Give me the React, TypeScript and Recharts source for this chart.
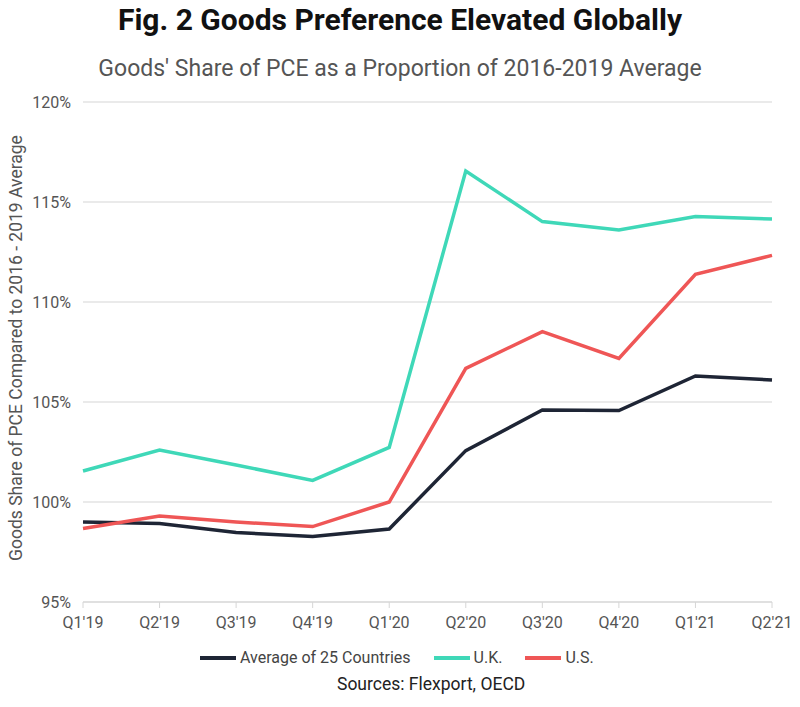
import React from 'react';
import { LineChart, Line, XAxis, YAxis, CartesianGrid } from 'recharts';

const quarters = ["Q1'19", "Q2'19", "Q3'19", "Q4'19", "Q1'20", "Q2'20", "Q3'20", "Q4'20", "Q1'21", "Q2'21"];
const average25 = [99.0, 98.92, 98.48, 98.27, 98.65, 102.57, 104.6, 104.57, 106.3, 106.1];
const uk = [101.55, 102.6, 101.85, 101.08, 102.73, 116.55, 114.02, 113.6, 114.27, 114.15];
const us = [98.68, 99.3, 99.0, 98.77, 100.0, 106.68, 108.52, 107.18, 111.38, 112.33];
const yTicks = [95, 100, 105, 110, 115, 120];

const FONT = 'Roboto, "Noto Sans", sans-serif';
const COLORS = {
  avg: '#1e2535',
  uk: '#3fd8b8',
  us: '#ef5656'
};

const series = [
  { key: 'avg', name: 'Average of 25 Countries', color: COLORS.avg },
  { key: 'uk', name: 'U.K.', color: COLORS.uk },
  { key: 'us', name: 'U.S.', color: COLORS.us }
];

const data = quarters.map((q, i) => ({
  quarter: q,
  avg: average25[i],
  uk: uk[i],
  us: us[i]
}));

export default function App() {
  return (
    <div style={{ position: 'absolute', left: 0, top: 0, width: 800, height: 707, background: '#fff', fontFamily: FONT }}>
      <div style={{ position: 'absolute', top: 2, width: 800, textAlign: 'center', fontSize: 30, fontWeight: 700, color: '#111' }}>
        Fig. 2 Goods Preference Elevated Globally
      </div>
      <div style={{ position: 'absolute', top: 55, width: 800, textAlign: 'center', fontSize: 23, color: '#555' }}>
        Goods' Share of PCE as a Proportion of 2016-2019 Average
      </div>
      <div
        style={{
          position: 'absolute',
          left: 16,
          top: 348,
          transform: 'translate(-50%, -50%) rotate(-90deg)',
          whiteSpace: 'nowrap',
          fontSize: 17.5,
          color: '#555'
        }}
      >
        Goods Share of PCE Compared to 2016 - 2019 Average
      </div>
      <div style={{ position: 'absolute', left: 0, top: 0 }}>
        <LineChart width={800} height={707} data={data} margin={{ top: 102, right: 28, bottom: 75, left: 13 }}>
          <CartesianGrid vertical={false} stroke="#e3e3e3" strokeWidth={1.5} />
          <XAxis
            dataKey="quarter"
            height={30}
            axisLine={{ stroke: '#d6d6d6' }}
            tickLine={{ stroke: '#d6d6d6' }}
            tick={{ fill: '#555', fontSize: 16, fontFamily: FONT }}
            tickMargin={9}
            interval={0}
          />
          <YAxis
            domain={[95, 120]}
            ticks={yTicks}
            width={70}
            axisLine={false}
            tickLine={false}
            tick={{ fill: '#555', fontSize: 16, fontFamily: FONT }}
            tickFormatter={(v: number) => `${v}%`}
            tickMargin={6}
          />
          {series.map((s) => (
            <Line
              key={s.key}
              type="linear"
              dataKey={s.key}
              name={s.name}
              stroke={s.color}
              strokeWidth={3.5}
              dot={false}
              isAnimationActive={false}
            />
          ))}
        </LineChart>
      </div>
      <div
        style={{
          position: 'absolute',
          top: 647,
          left: 200,
          display: 'flex',
          gap: 23,
          fontSize: 16,
          color: '#444',
          lineHeight: '22px'
        }}
      >
        {series.map((s) => (
          <div key={s.key} style={{ display: 'flex', alignItems: 'center' }}>
            <span style={{ display: 'inline-block', width: 36, height: 4, background: s.color, marginRight: 4 }} />
            <span>{s.name}</span>
          </div>
        ))}
      </div>
      <div style={{ position: 'absolute', top: 674, left: 337, fontSize: 17.5, color: '#222', whiteSpace: 'nowrap' }}>
        Sources: Flexport, OECD
      </div>
    </div>
  );
}
